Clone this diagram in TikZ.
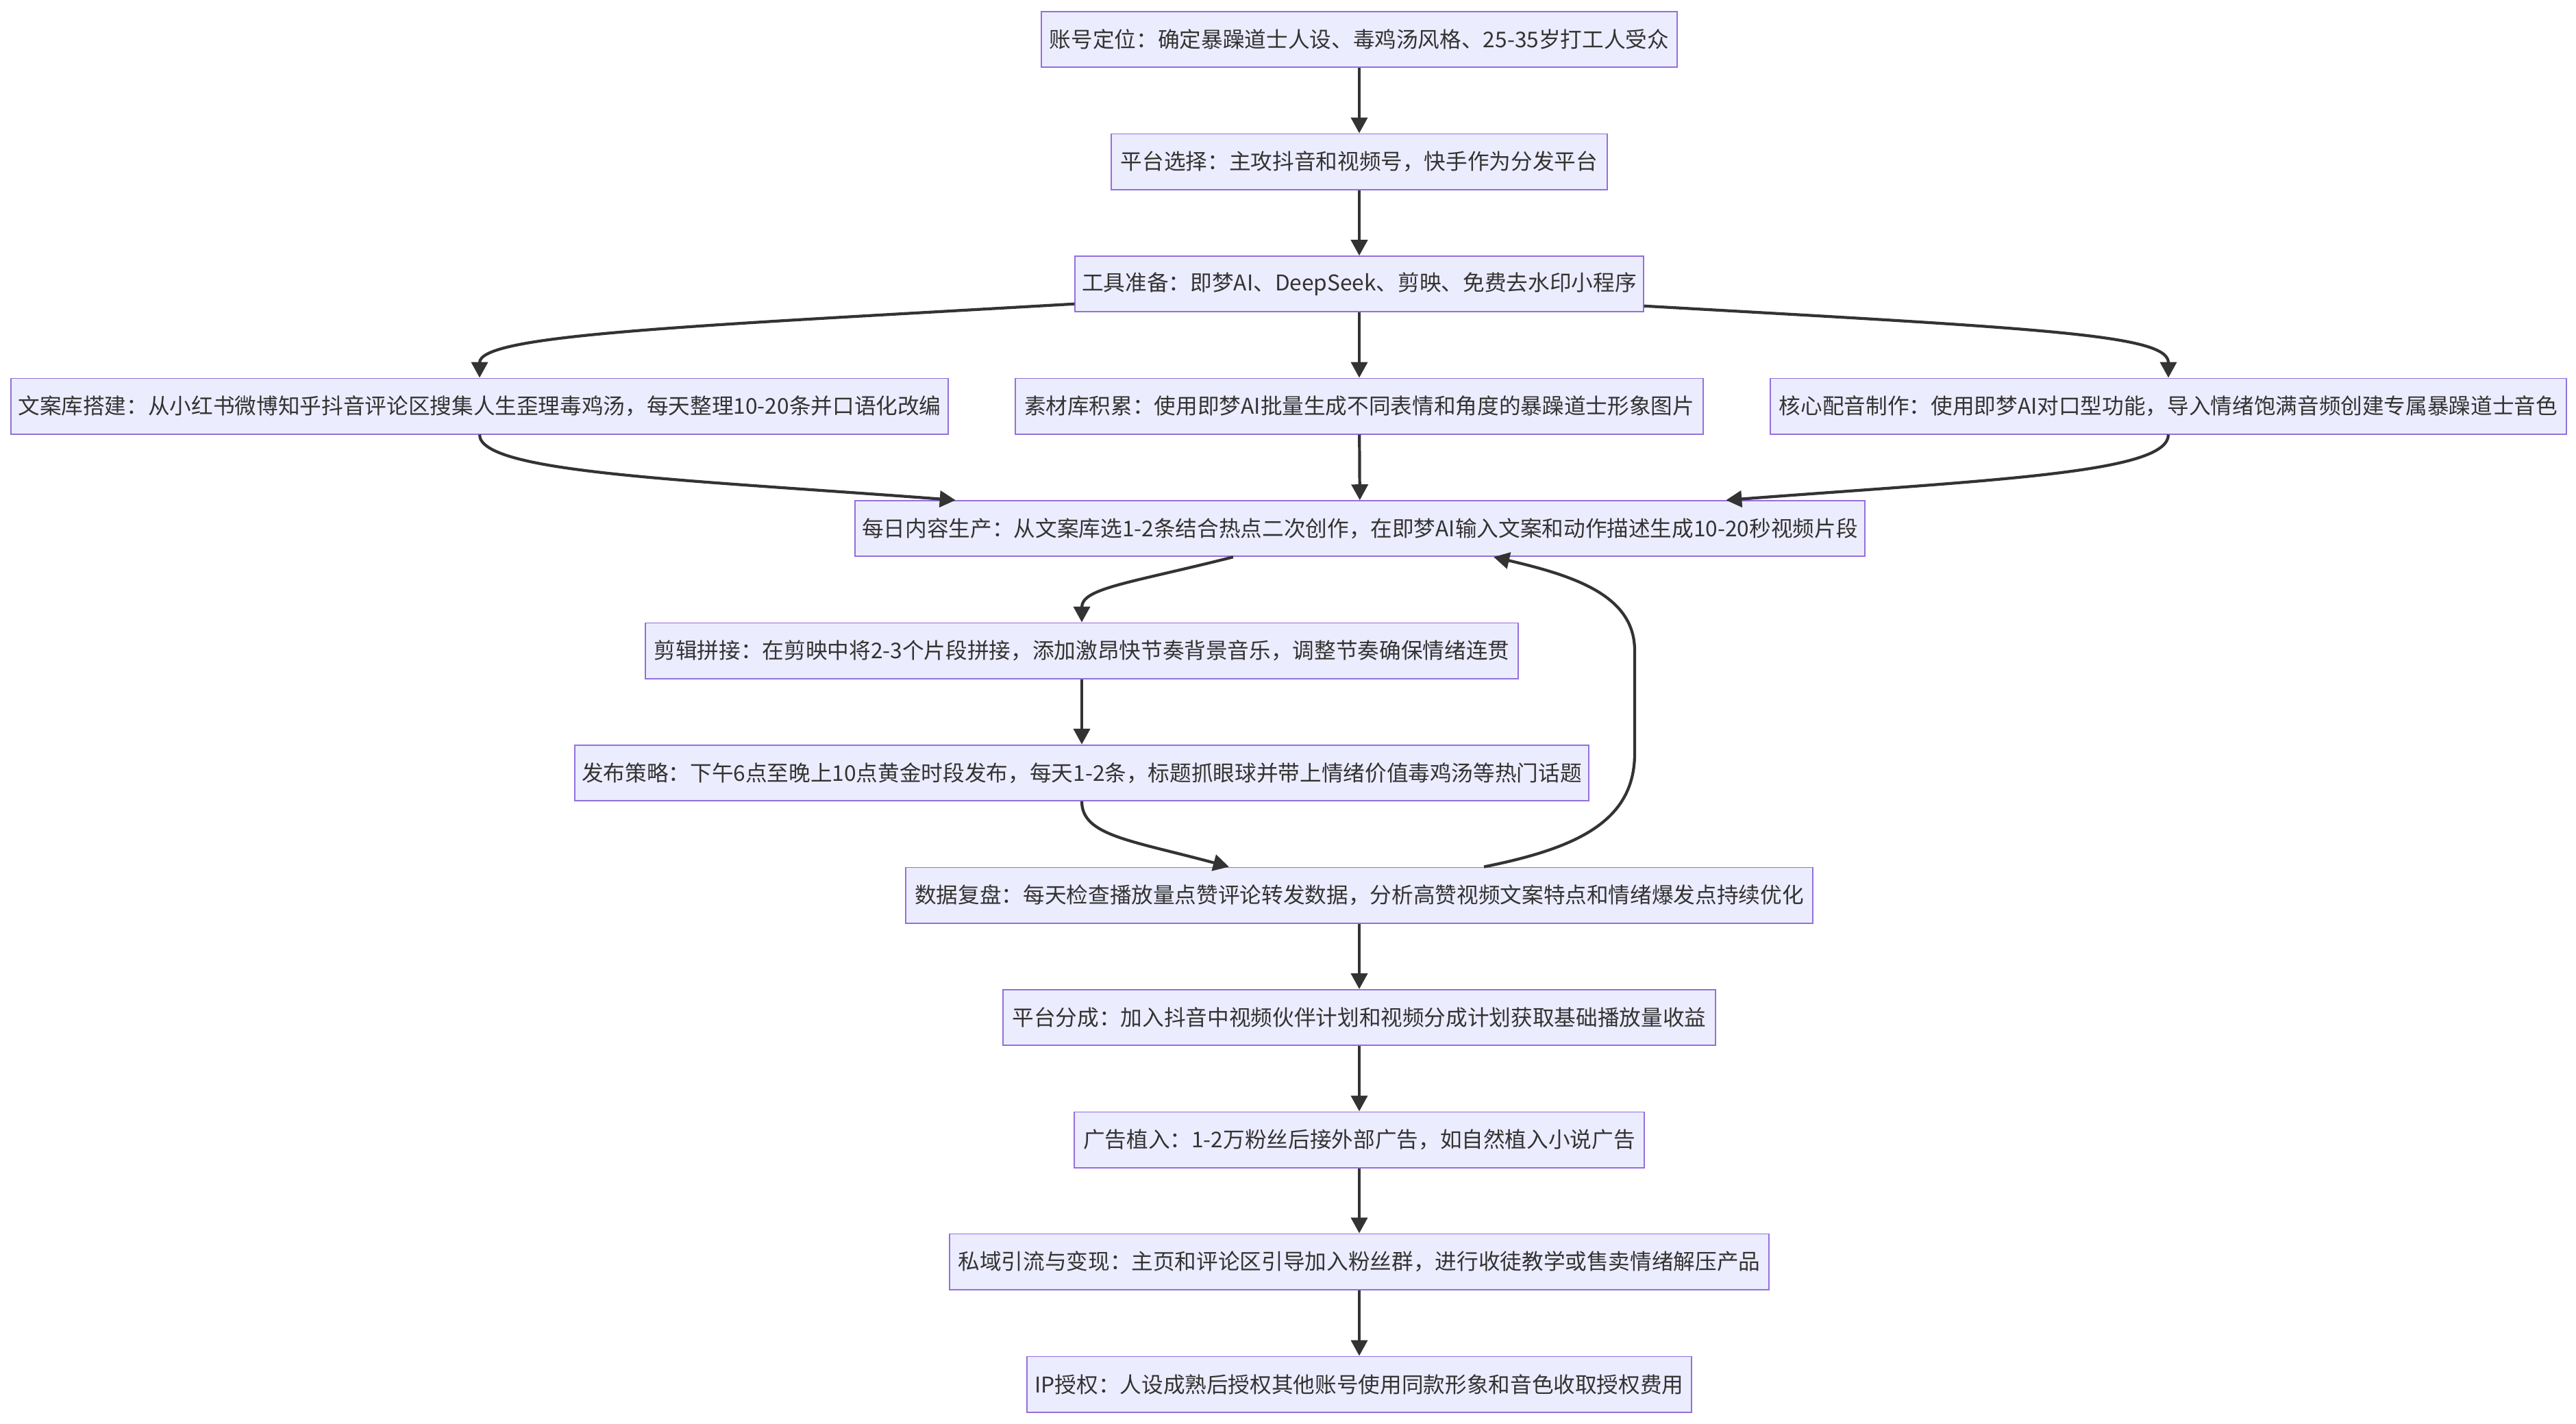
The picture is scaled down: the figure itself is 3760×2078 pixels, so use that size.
\documentclass[tikz,border=0pt]{standalone}
\usepackage{fontspec}
\usepackage{tikz}
\usetikzlibrary{arrows.meta}
\newfontfamily\cjkfont{Noto Sans CJK SC}
\definecolor{boxfill}{HTML}{ECECFF}
\definecolor{boxline}{HTML}{9370DB}
\definecolor{linkgray}{HTML}{333333}

\begin{document}
\begin{tikzpicture}[x=0.01cm, y=-0.01cm,
  stepbox/.style={draw=boxline, fill=boxfill, line width=0.55pt, minimum height=0.81cm,
    inner xsep=0.1cm, text=linkgray, font=\cjkfont\fontsize{9pt}{11pt}\selectfont},
  flow/.style={draw=linkgray, line width=1.2pt, -{Triangle[length=0.23cm, width=0.24cm]}}]
  \useasboundingbox (0,0) rectangle (3760,2078);

  \node[stepbox, minimum width=9.28cm]  (acct)      at (1984,57.5)  {账号定位：确定暴躁道士人设、毒鸡汤风格、25-35岁打工人受众};
  \node[stepbox, minimum width=7.23cm]  (platform)  at (1984,236)   {平台选择：主攻抖音和视频号，快手作为分发平台};
  \node[stepbox, minimum width=8.25cm]  (tools)     at (1984,414.7) {工具准备：即梦AI、DeepSeek、剪映、免费去水印小程序};
  \node[stepbox, minimum width=13.68cm] (copylib)   at (700,593)    {文案库搭建：从小红书微博知乎抖音评论区搜集人生歪理毒鸡汤，每天整理10-20条并口语化改编};
  \node[stepbox, minimum width=10.04cm] (assetlib)  at (1984,593)   {素材库积累：使用即梦AI批量生成不同表情和角度的暴躁道士形象图片};
  \node[stepbox, minimum width=11.62cm] (voice)     at (3165,593)   {核心配音制作：使用即梦AI对口型功能，导入情绪饱满音频创建专属暴躁道士音色};
  \node[stepbox, minimum width=14.70cm] (daily)     at (1985,771.7) {每日内容生产：从文案库选1-2条结合热点二次创作，在即梦AI输入文案和动作描述生成10-20秒视频片段};
  \node[stepbox, minimum width=12.73cm] (editing)   at (1579,950)   {剪辑拼接：在剪映中将2-3个片段拼接，添加激昂快节奏背景音乐，调整节奏确保情绪连贯};
  \node[stepbox, minimum width=14.78cm] (publish)   at (1579,1128.3){发布策略：下午6点至晚上10点黄金时段发布，每天1-2条，标题抓眼球并带上情绪价值毒鸡汤等热门话题};
  \node[stepbox, minimum width=13.23cm] (review)    at (1984,1307)  {数据复盘：每天检查播放量点赞评论转发数据，分析高赞视频文案特点和情绪爆发点持续优化};
  \node[stepbox, minimum width=10.40cm] (revenue)   at (1984,1485.5){平台分成：加入抖音中视频伙伴计划和视频分成计划获取基础播放量收益};
  \node[stepbox, minimum width=8.32cm]  (ads)       at (1984,1664)  {广告植入：1-2万粉丝后接外部广告，如自然植入小说广告};
  \node[stepbox, minimum width=11.96cm] (private)   at (1984,1842)  {私域引流与变现：主页和评论区引导加入粉丝群，进行收徒教学或售卖情绪解压产品};
  \node[stepbox, minimum width=9.70cm]  (iplicense) at (1984,2021)  {IP授权：人设成熟后授权其他账号使用同款形象和音色收取授权费用};

  \coordinate (backlow)  at (2386,1100);
  \coordinate (backhigh) at (2386,950);

  \draw[flow] (acct) -- (platform);
  \draw[flow] (platform) -- (tools);
  \draw[flow] ([yshift=-0.29cm]tools.west) .. controls +(-571,33) and +(0,-63) .. (copylib.north);
  \draw[flow] (tools) -- (assetlib);
  \draw[flow] ([yshift=-0.32cm]tools.east) .. controls +(584,33) and +(0,-63) .. (voice.north);
  \draw[flow] (copylib.south) .. controls +(0,56) and +(-395,-30) .. ([xshift=-5.9cm]daily.north);
  \draw[flow] (assetlib) -- (daily);
  \draw[flow] (voice.south) .. controls +(0,56) and +(395,-30) .. ([xshift=5.34cm]daily.north);
  \draw[flow] ([xshift=-1.85cm]daily.south) .. controls +(-150,38) and +(0,-50) .. (editing.north);
  \draw[flow] (editing) -- (publish);
  \draw[flow] (publish.south) .. controls +(0,50) and +(-145,-39) .. ([xshift=-1.9cm]review.north);
  \draw[flow] ([xshift=1.82cm]review.north) .. controls +(134,-27) and +(0,100) .. (backlow)
    -- (backhigh) .. controls +(0,-80) and +(120,28) .. ([xshift=1.95cm]daily.south);
  \draw[flow] (review) -- (revenue);
  \draw[flow] (revenue) -- (ads);
  \draw[flow] (ads) -- (private);
  \draw[flow] (private) -- (iplicense);
\end{tikzpicture}
\end{document}
